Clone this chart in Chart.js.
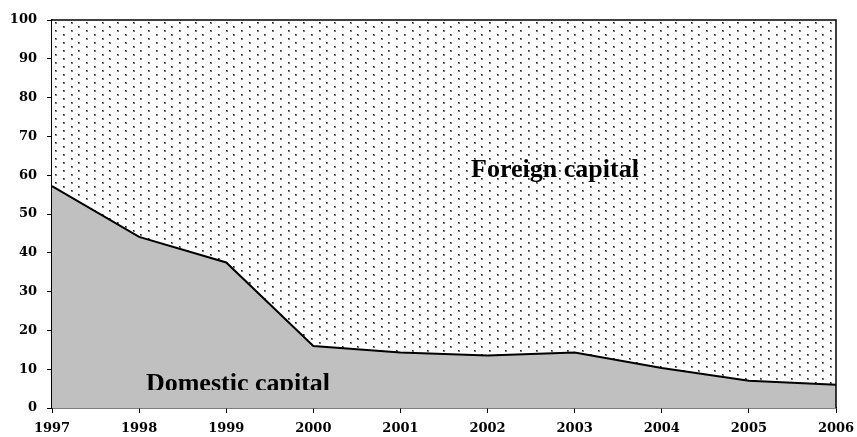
<!DOCTYPE html>
<html>
<head>
<meta charset="utf-8">
<script src="https://cdn.jsdelivr.net/npm/chart.js@4"></script>
<style>
  html, body { margin: 0; padding: 0; background: #fff; }
  #wrap { width: 857px; height: 437px; }
</style>
</head>
<body>
<div id="wrap"><canvas id="chart" width="857" height="437"></canvas></div>
<script>
const years = ["1997", "1998", "1999", "2000", "2001", "2002", "2003", "2004", "2005", "2006"];
const domestic = [57.2, 44.1, 37.5, 16.0, 14.3, 13.5, 14.3, 10.3, 7.0, 6.0];
const foreign = [42.8, 55.9, 62.5, 84.0, 85.7, 86.5, 85.7, 89.7, 93.0, 94.0];
const yTicks = [0, 10, 20, 30, 40, 50, 60, 70, 80, 90, 100];

const labelFont = "'Liberation Serif', 'Times New Roman', serif";
const tickFont = "'DejaVu Serif', serif";

// staggered dot fill, about 15.5px between dots in a row, rows 4px apart
function dotPattern() {
  const c = document.createElement("canvas");
  c.width = 31;
  c.height = 8;
  const g = c.getContext("2d");
  g.fillStyle = "#fff";
  g.fillRect(0, 0, 31, 8);
  const dots = [[1, 2], [16, 2], [9, 6], [24, 6]];
  dots.forEach(([x, y]) => {
    g.fillStyle = "#7a7a7a";
    g.fillRect(x, y, 2, 2);
    g.fillStyle = "#222";
    g.fillRect(x, y, 1, 1);
  });
  return g.createPattern(c, "repeat");
}

const areaLabels = {
  id: "areaLabels",
  afterDatasetsDraw(chart) {
    const { ctx, chartArea } = chart;
    ctx.save();
    ctx.fillStyle = "#000";
    ctx.textAlign = "center";
    ctx.textBaseline = "alphabetic";
    ctx.font = "bold 26px " + labelFont;
    ctx.fillText("Foreign capital", 555, 177);
    ctx.beginPath();
    ctx.rect(chartArea.left, chartArea.top, chartArea.right - chartArea.left, 390 - chartArea.top);
    ctx.clip();
    ctx.fillText("Domestic capital", 238, 391);
    ctx.restore();
  },
  afterDraw(chart) {
    const { ctx, chartArea } = chart;
    ctx.save();
    ctx.strokeStyle = "#000";
    ctx.lineWidth = 1.5;
    ctx.beginPath();
    ctx.moveTo(chartArea.left, chartArea.top);
    ctx.lineTo(chartArea.right, chartArea.top);
    ctx.lineTo(chartArea.right, chartArea.bottom);
    ctx.stroke();
    ctx.restore();
  }
};

new Chart(document.getElementById("chart"), {
  type: "line",
  data: {
    labels: years,
    datasets: [
      {
        label: "Domestic capital",
        data: domestic,
        fill: "origin",
        backgroundColor: "#c0c0c0",
        borderColor: "#000",
        borderWidth: 2,
        pointRadius: 0,
        tension: 0,
        order: 0
      },
      {
        label: "Foreign capital",
        data: foreign,
        fill: "-1",
        backgroundColor: dotPattern(),
        borderWidth: 0,
        borderColor: "rgba(0,0,0,0)",
        pointRadius: 0,
        tension: 0,
        order: 1
      }
    ]
  },
  options: {
    responsive: false,
    animation: false,
    layout: { padding: { left: 0, top: 20, right: 21, bottom: 0 } },
    plugins: {
      legend: { display: false },
      tooltip: { enabled: false }
    },
    scales: {
      x: {
        offset: false,
        afterFit(scale) {
          scale.height = 29;
          scale.paddingRight = 0;
        },
        grid: { drawOnChartArea: false, tickLength: 5, color: "#000", lineWidth: 1 },
        border: { display: true, color: "#000", width: 1.5 },
        ticks: {
          color: "#000",
          padding: 8,
          maxRotation: 0,
          autoSkip: false,
          font: { family: tickFont, size: 13, weight: "bold" }
        }
      },
      y: {
        stacked: true,
        min: 0,
        max: 100,
        afterFit(scale) { scale.width = 52; },
        afterBuildTicks(scale) { scale.ticks = yTicks.map(v => ({ value: v })); },
        grid: { drawOnChartArea: false, tickLength: 5, color: "#000", lineWidth: 1 },
        border: { display: true, color: "#000", width: 1.5 },
        ticks: {
          color: "#000",
          padding: 10,
          font: { family: tickFont, size: 13, weight: "bold" }
        }
      }
    }
  },
  plugins: [areaLabels]
});
</script>
</body>
</html>
